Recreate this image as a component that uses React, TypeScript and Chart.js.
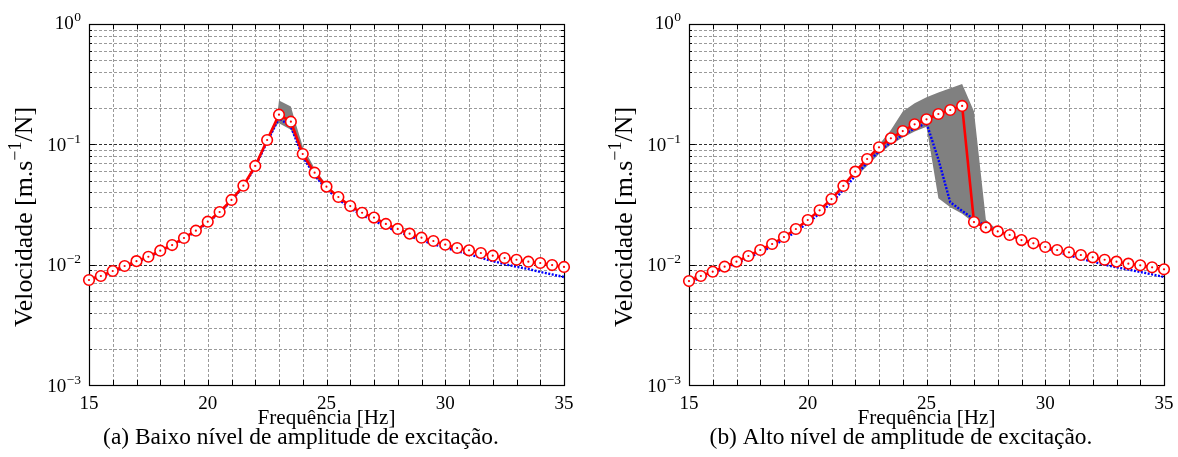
import React, { useEffect, useRef } from "react";
import { Chart, registerables } from "chart.js";

Chart.register(...registerables);

// ---------------- data ----------------
const FREQ = [
  15, 15.5, 16, 16.5, 17, 17.5, 18, 18.5, 19, 19.5, 20, 20.5, 21, 21.5, 22, 22.5, 23, 23.5, 24, 24.5,
  25, 25.5, 26, 26.5, 27, 27.5, 28, 28.5, 29, 29.5, 30, 30.5, 31, 31.5, 32, 32.5, 33, 33.5, 34, 34.5, 35,
];

// (a) low excitation level
const LOW_MEASURED = [
  0.00746, 0.00805, 0.00886, 0.00975, 0.0107, 0.01164, 0.01306, 0.01456, 0.01666, 0.01915,
  0.02275, 0.0274, 0.0345, 0.0453, 0.0661, 0.1086, 0.1763, 0.1542, 0.0831, 0.0581,
  0.0445, 0.0365, 0.0307, 0.027, 0.0246, 0.0218, 0.0198, 0.0181, 0.01675, 0.01573,
  0.01465, 0.01375, 0.01316, 0.0125, 0.01187, 0.01135, 0.01099, 0.01058, 0.01032, 0.00993, 0.00957,
];
const LOW_MODEL = [
  0.0073, 0.0079, 0.0087, 0.0096, 0.0105, 0.0115, 0.0129, 0.0144, 0.0164, 0.0189,
  0.0224, 0.027, 0.034, 0.0448, 0.065, 0.105, 0.165, 0.14, 0.079, 0.055,
  0.0425, 0.035, 0.0295, 0.0258, 0.0232, 0.0207, 0.0188, 0.0173, 0.0159, 0.0148,
  0.0138, 0.013, 0.0122, 0.0114, 0.0107, 0.0101, 0.0096, 0.0092, 0.0087, 0.0083, 0.0079,
];
const LOW_BAND_FREQ = [22, 22.5, 22.9, 23, 23.5, 23.7, 24, 24.5, 25];
const LOW_BAND_MAX = [0.068, 0.111, 0.16, 0.231, 0.206, 0.15, 0.096, 0.063, 0.046];
const LOW_BAND_MIN = [0.063, 0.102, 0.145, 0.15, 0.132, 0.11, 0.078, 0.054, 0.042];

// (b) high excitation level
const HIGH_MEASURED = [
  0.00731, 0.00805, 0.00874, 0.00962, 0.01059, 0.0118, 0.01324, 0.01485, 0.01698, 0.01979,
  0.0235, 0.0283, 0.0351, 0.0451, 0.0593, 0.0755, 0.0945, 0.1122, 0.129, 0.1467,
  0.1615, 0.1787, 0.1929, 0.2084, 0.0226, 0.0204, 0.0189, 0.01765, 0.016, 0.01505,
  0.01402, 0.01324, 0.01267, 0.01203, 0.0115, 0.01099, 0.01059, 0.01019, 0.00988, 0.00951, 0.00915,
];
const HIGH_MODEL = [
  0.0071, 0.0078, 0.0085, 0.0093, 0.0103, 0.0114, 0.0127, 0.0142, 0.0162, 0.0188,
  0.0222, 0.0266, 0.0328, 0.0418, 0.0548, 0.07, 0.0875, 0.104, 0.1195, 0.1355,
  0.15, 0.075, 0.033, 0.028, 0.0238, 0.021, 0.0192, 0.0176, 0.0161, 0.0149,
  0.0138, 0.0128, 0.012, 0.0112, 0.0106, 0.01, 0.0095, 0.0091, 0.0087, 0.0083, 0.0079,
];
const HIGH_BAND_FREQ = [22, 22.5, 23, 23.5, 24, 24.5, 25, 25.5, 26, 26.5, 27, 27.5, 28];
const HIGH_BAND_MAX = [0.06, 0.077, 0.099, 0.1315, 0.187, 0.219, 0.246, 0.27, 0.292, 0.317, 0.187, 0.0236, 0.0192];
const HIGH_BAND_MIN = [0.053, 0.066, 0.083, 0.099, 0.114, 0.128, 0.14, 0.0356, 0.03, 0.0265, 0.0222, 0.02, 0.0186];

const X_LABEL_TICKS = [15, 20, 25, 30, 35];
const Y_DECADES = [-3, -2, -1, 0];

const CAPTION_A = "(a) Baixo nível de amplitude de excitação.";
const CAPTION_B = "(b) Alto nível de amplitude de excitação.";
const X_TITLE = "Frequência [Hz]";
const Y_TITLE_PARTS = ["Velocidade [m.s", "−1", "/N]"];

// ---------------- style ----------------
const FONT = '"Liberation Serif", "Times New Roman", serif';
const RED = "#ff0000";
const BLUE = "#0000ff";
const GRAY = "#808080";
const GRID_MINOR = "#9a9a9a";
const GRID_MAJOR = "#303030";

function pts(xs: number[], ys: number[]) {
  return xs.map((x, i) => ({ x, y: ys[i] }));
}

function fitSize(ctx: CanvasRenderingContext2D, text: string, target: number) {
  ctx.font = `100px ${FONT}`;
  return (100 * target) / ctx.measureText(text).width;
}

const matlabPlugin = {
  id: "matlabAxes",
  beforeDatasetsDraw(chart: any) {
    const { ctx, chartArea: a, scales } = chart;
    const x = scales.x;
    const y = scales.y;
    ctx.save();
    ctx.lineWidth = 1;
    ctx.setLineDash([3, 2]);
    ctx.strokeStyle = GRID_MINOR;
    for (const t of x.ticks) {
      const px = Math.round(x.getPixelForValue(t.value)) + 0.5;
      if (px <= a.left + 1 || px >= a.right - 1) continue;
      ctx.beginPath();
      ctx.moveTo(px, a.top);
      ctx.lineTo(px, a.bottom);
      ctx.stroke();
    }
    for (let d = Y_DECADES[0]; d < Y_DECADES[Y_DECADES.length - 1]; d++) {
      for (let m = 2; m <= 9; m++) {
        const py = Math.round(y.getPixelForValue(m * Math.pow(10, d))) + 0.5;
        ctx.beginPath();
        ctx.moveTo(a.left, py);
        ctx.lineTo(a.right, py);
        ctx.stroke();
      }
    }
    ctx.strokeStyle = GRID_MAJOR;
    for (const d of Y_DECADES) {
      const py = Math.round(y.getPixelForValue(Math.pow(10, d))) + 0.5;
      if (py <= a.top + 1 || py >= a.bottom - 1) continue;
      ctx.beginPath();
      ctx.moveTo(a.left, py);
      ctx.lineTo(a.right, py);
      ctx.stroke();
    }
    ctx.setLineDash([]);
    ctx.strokeStyle = "#000";
    for (const t of x.ticks) {
      const px = Math.round(x.getPixelForValue(t.value)) + 0.5;
      ctx.beginPath();
      ctx.moveTo(px, a.bottom);
      ctx.lineTo(px, a.bottom - 5);
      ctx.moveTo(px, a.top);
      ctx.lineTo(px, a.top + 5);
      ctx.stroke();
    }
    for (let d = Y_DECADES[0]; d < Y_DECADES[Y_DECADES.length - 1]; d++) {
      for (let m = 1; m <= 9; m++) {
        const py = Math.round(y.getPixelForValue(m * Math.pow(10, d))) + 0.5;
        const len = m === 1 ? 6 : 3;
        ctx.beginPath();
        ctx.moveTo(a.left, py);
        ctx.lineTo(a.left + len, py);
        ctx.moveTo(a.right, py);
        ctx.lineTo(a.right - len, py);
        ctx.stroke();
      }
    }
    ctx.lineWidth = 1.2;
    ctx.strokeRect(Math.round(a.left) + 0.5, Math.round(a.top) + 0.5, Math.round(a.right - a.left), Math.round(a.bottom - a.top));
    ctx.restore();
  },
  afterDraw(chart: any, _args: any, opts: any) {
    const { ctx, chartArea: a, scales } = chart;
    const y = scales.y;
    ctx.save();
    ctx.fillStyle = "#000";
    ctx.textBaseline = "alphabetic";
    ctx.textAlign = "left";
    // y tick labels 10^n
    for (const d of Y_DECADES) {
      const py = y.getPixelForValue(Math.pow(10, d));
      const sup = d === 0 ? "0" : "−" + String(-d);
      ctx.font = `13.5px ${FONT}`;
      const supW = ctx.measureText(sup).width;
      ctx.font = `19px ${FONT}`;
      const baseW = ctx.measureText("10").width;
      const right = a.left - 8;
      const supX = right - supW;
      const baseX = supX - baseW - 0.5;
      const baseY = py + (d === 0 ? 4.5 : 6.5);
      ctx.fillText("10", baseX, baseY);
      ctx.font = `13.5px ${FONT}`;
      ctx.fillText(sup, supX, baseY - 8);
    }
    // x title
    const cx = (a.left + a.right) / 2;
    let s = fitSize(ctx, X_TITLE, 138);
    ctx.font = `${s}px ${FONT}`;
    ctx.textAlign = "center";
    ctx.fillText(X_TITLE, cx, 424);
    // caption (same size for both panels)
    s = fitSize(ctx, CAPTION_A, 396);
    ctx.font = `${s}px ${FONT}`;
    ctx.fillText(opts.caption, a.left + 212, 443.5);
    // y title (rotated, with superscript)
    ctx.font = `100px ${FONT}`;
    const w1 = ctx.measureText(Y_TITLE_PARTS[0]).width;
    const w3 = ctx.measureText(Y_TITLE_PARTS[2]).width;
    ctx.font = `70px ${FONT}`;
    const w2 = ctx.measureText(Y_TITLE_PARTS[1]).width;
    const ys = (100 * 220) / (w1 + w2 + w3);
    const k = ys / 100;
    ctx.translate(a.left - 57, a.top + 193);
    ctx.rotate(-Math.PI / 2);
    ctx.textAlign = "left";
    let tx = -((w1 + w2 + w3) * k) / 2;
    ctx.font = `${ys}px ${FONT}`;
    ctx.fillText(Y_TITLE_PARTS[0], tx, 0);
    tx += w1 * k;
    ctx.font = `${ys * 0.7}px ${FONT}`;
    ctx.fillText(Y_TITLE_PARTS[1], tx, -ys * 0.42);
    tx += w2 * k;
    ctx.font = `${ys}px ${FONT}`;
    ctx.fillText(Y_TITLE_PARTS[2], tx, 0);
    ctx.restore();
  },
};

type Panel = {
  caption: string;
  measured: number[];
  model: number[];
  bandFreq: number[];
  bandMax: number[];
  bandMin: number[];
  rightPad: number;
};

function FrfChart({ panel, left, width }: { panel: Panel; left: number; width: number }) {
  const ref = useRef<HTMLCanvasElement | null>(null);
  useEffect(() => {
    if (!ref.current) return;
    const chart = new Chart(ref.current, {
      type: "line",
      data: {
        datasets: [
          {
            data: pts(FREQ, panel.measured),
            showLine: false,
            pointRadius: 1.1,
            pointBackgroundColor: RED,
            pointBorderWidth: 0,
            order: 0,
            clip: false,
          },
          {
            data: pts(FREQ, panel.measured),
            borderColor: RED,
            borderWidth: 2.6,
            pointRadius: 5.3,
            pointBackgroundColor: "#ffffff",
            pointBorderColor: RED,
            pointBorderWidth: 1.6,
            order: 1,
            clip: false,
          },
          {
            data: pts(FREQ, panel.model),
            borderColor: BLUE,
            borderWidth: 2.4,
            borderDash: [2, 1.5],
            pointRadius: 0,
            order: 2,
            clip: false,
          },
          {
            data: pts(panel.bandFreq, panel.bandMax),
            borderWidth: 0,
            borderColor: "rgba(0,0,0,0)",
            pointRadius: 0,
            fill: false,
            order: 3,
          },
          {
            data: pts(panel.bandFreq, panel.bandMin),
            borderWidth: 0,
            borderColor: "rgba(0,0,0,0)",
            backgroundColor: GRAY,
            pointRadius: 0,
            fill: "-1",
            order: 4,
          },
        ],
      } as any,
      options: {
        animation: false,
        responsive: false,
        devicePixelRatio: 1,
        layout: { padding: { top: 24, right: panel.rightPad, left: 0, bottom: 0 } },
        plugins: {
          legend: { display: false },
          tooltip: { enabled: false },
          matlabAxes: { caption: panel.caption },
        } as any,
        scales: {
          x: {
            type: "linear",
            min: 15,
            max: 35,
            grid: { display: false },
            border: { display: false },
            ticks: {
              stepSize: 1,
              autoSkip: false,
              maxRotation: 0,
              padding: 0,
              color: "#000",
              font: { family: FONT, size: 19 },
              callback: (v: any) => (X_LABEL_TICKS.includes(Number(v)) ? String(v) : ""),
            },
            afterFit: (sc: any) => {
              sc.height = 72;
            },
          },
          y: {
            type: "logarithmic",
            min: 0.001,
            max: 1,
            grid: { display: false },
            border: { display: false },
            ticks: { display: false },
            afterFit: (sc: any) => {
              sc.width = 89;
            },
          },
        },
      } as any,
      plugins: [matlabPlugin as any],
    });
    return () => chart.destroy();
  }, [panel]);
  return (
    <canvas
      ref={ref}
      width={width}
      height={457}
      style={{ position: "absolute", left, top: 0, width, height: 457 }}
    />
  );
}

const PANEL_A: Panel = {
  caption: CAPTION_A,
  measured: LOW_MEASURED,
  model: LOW_MODEL,
  bandFreq: LOW_BAND_FREQ,
  bandMax: LOW_BAND_MAX,
  bandMin: LOW_BAND_MIN,
  rightPad: 25,
};
const PANEL_B: Panel = {
  caption: CAPTION_B,
  measured: HIGH_MEASURED,
  model: HIGH_MODEL,
  bandFreq: HIGH_BAND_FREQ,
  bandMax: HIGH_BAND_MAX,
  bandMin: HIGH_BAND_MIN,
  rightPad: 14,
};

export default function App() {
  return (
    <div style={{ position: "fixed", left: 0, top: 0, width: 1178, height: 457, background: "#fff" }}>
      <FrfChart panel={PANEL_A} left={0} width={589} />
      <FrfChart panel={PANEL_B} left={600} width={578} />
    </div>
  );
}
